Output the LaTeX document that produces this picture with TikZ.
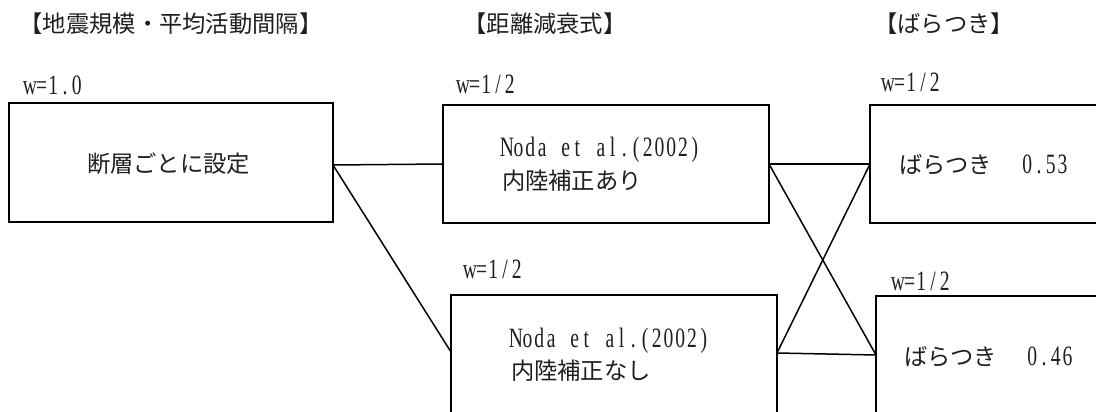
\documentclass[tikz,border=0pt]{standalone}
\usepackage{fontspec}
\usetikzlibrary{calc}
\newfontfamily\jp{Noto Sans CJK JP}
\newfontfamily\hwfont[FakeStretch=0.70]{Liberation Serif}
\newlength\hwstep \setlength\hwstep{11.75pt}
\makeatletter
\newcommand\hw[1]{{\hwfont\fontsize{28pt}{30pt}\selectfont\@tfor\hwc:=#1\do{\makebox[\hwstep][c]{\hwc}}}}
\makeatother
\begin{document}
\begin{tikzpicture}[x=1pt,y=-1pt,
  box/.style={draw,line width=1.5pt,inner sep=0pt,outer sep=0pt,rectangle},
  conn/.style={line width=1.5pt},
  txt/.style={inner sep=0pt,outer sep=0pt,text=black!88,font=\jp\fontsize{23.3pt}{28pt}\selectfont}]
\clip (0,0) rectangle (1096,412);
\fill[white] (0,0) rectangle (1096,412);
% titles
\node[txt,anchor=base] (t1) at (171,33) {【地震規模・平均活動間隔】};
\node[txt,anchor=base] (t2) at (545,33) {【距離減衰式】};
\node[txt,anchor=base] (t3) at (944,33) {【ばらつき】};
% boxes
\node[box,minimum width=324pt,minimum height=119pt] (A) at (171,162.5) {};
\node[box,minimum width=326pt,minimum height=118pt] (B) at (606,164) {};
\node[box,minimum width=326pt,minimum height=119pt] (C) at (614,354.5) {};
\node[box,minimum width=330pt,minimum height=118pt] (D) at (1035,164) {};
\node[box,minimum width=324pt,minimum height=119pt] (E) at (1038,355.5) {};
% weights
\node[txt,anchor=base west] (wA) at (24,95) {\hw{w=1.0}};
\node[txt,anchor=base west] (wB) at (457,93) {\hw{w=1/2}};
\node[txt,anchor=base west] (wC) at (464,278) {\hw{w=1/2}};
\node[txt,anchor=base west] (wD) at (882,92) {\hw{w=1/2}};
\node[txt,anchor=base west] (wE) at (892,290) {\hw{w=1/2}};
% box texts
\node[txt,anchor=base west] (a1) at (87,172) {断層ごとに設定};
\node[txt,anchor=base west] (b1) at (501,157) {\hw{Noda~et~al.(2002)}};
\node[txt,anchor=base west] (b2) at (502,189) {内陸補正あり};
\node[txt,anchor=base west] (c1) at (510,347) {\hw{Noda~et~al.(2002)}};
\node[txt,anchor=base west] (c2) at (511,379) {内陸補正なし};
\node[txt,anchor=base west] (d1) at (899,173) {ばらつき\hspace{6pt}　\hw{0.53}};
\node[txt,anchor=base west] (e1) at (904,365) {ばらつき\hspace{6pt}　\hw{0.46}};
% connectors
\draw[conn] ([yshift=-2.5pt]A.east) -- (B.west);
\draw[conn] ([yshift=-2.5pt]A.east) -- ([yshift=2.5pt]C.west);
\draw[conn] (B.east) -- (D.west);
\draw[conn] (B.east) -- ([yshift=0.5pt]E.west);
\draw[conn] ([yshift=1.5pt]C.east) -- (D.west);
\draw[conn] ([yshift=1.5pt]C.east) -- ([yshift=0.5pt]E.west);
\end{tikzpicture}
\end{document}
